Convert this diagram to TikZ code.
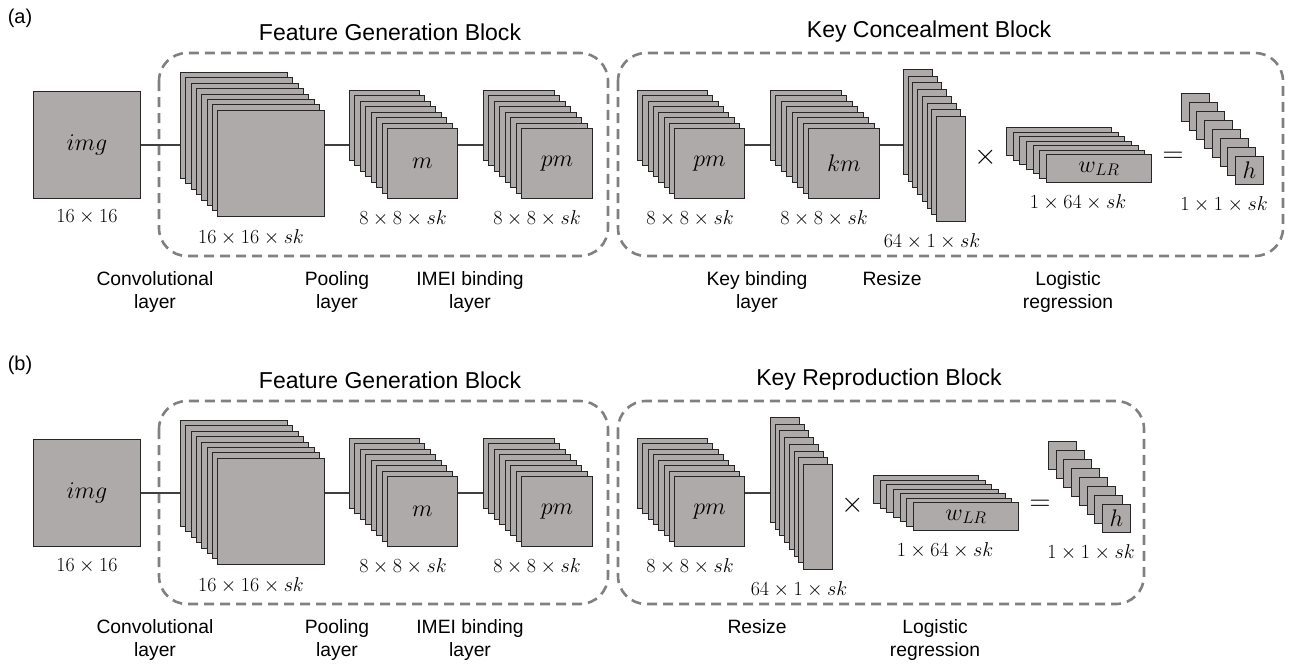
\RequirePackage{fix-cm}
\documentclass[tikz,border=0pt]{standalone}
\usepackage{fontspec}
\setmainfont{Liberation Sans}
\definecolor{mapfill}{RGB}{174,170,170}
\definecolor{blockgray}{RGB}{128,128,128}
\tikzset{
  layer/.style={draw=black!85, fill=mapfill, line width=1pt, inner sep=0pt, anchor=north west},
  link/.style={draw=black!75, line width=1.2pt},
  block/.style={draw=blockgray, line width=2.6pt, dash pattern=on 10pt off 6pt, rounded corners=28pt},
  title/.style={font=\fontsize{23}{27}\selectfont},
  dimlbl/.style={font=\fontsize{20}{24}\selectfont},
  inlbl/.style={font=\fontsize{24}{28}\selectfont},
  oplbl/.style={font=\fontsize{29}{33}\selectfont},
  layerlbl/.style={font=\fontsize{19.3}{23}\selectfont, align=center, anchor=north, inner sep=0pt}
}
% stack of feature maps: name, x, y of back layer, width, height, back layers, dx, dy, text
\newcommand{\fmaps}[9]{%
  \foreach \i in {1,...,#6}
    \node[layer, minimum width=#4pt, minimum height=#5pt] (#1-\i) at ({#2+(\i-1)*#7},{#3+(\i-1)*#8}) {};
  \node[layer, inlbl, minimum width=#4pt, minimum height=#5pt] (#1) at ({#2+#6*#7},{#3+#6*#8}) {#9};
}

\begin{document}
\begin{tikzpicture}[x=1pt, y=-1pt]
\useasboundingbox (0,0) rectangle (1290,664);

% (a)
\node[font=\fontsize{20}{24}\selectfont] (alab) at (20,18) {(a)};
\draw[block] (159,53) rectangle (608,256);
\draw[block] (618,53) rectangle (1283,256);
\node[title] (afgb) at (390,32) {Feature Generation Block};
\node[title] (akcb) at (929,32) {Key Concealment Block};

\node[layer, inlbl, minimum width=107pt, minimum height=107pt] (aimg) at (33,91) {$img$};
\fmaps{aconv}{180}{72}{107}{106}{7}{5.3}{5.4}{}
\fmaps{apool}{349}{90}{70}{70}{7}{5.43}{5.43}{$m$}
\fmaps{apm}{483}{90}{71}{70}{7}{5.43}{5.43}{$pm$}
\fmaps{akpm}{637}{90}{70}{70}{7}{5.3}{5.43}{$pm$}
\fmaps{akm}{770}{90}{71}{70}{7}{5.43}{5.43}{$km$}
\fmaps{ars}{903}{69}{29}{105}{7}{4.71}{6.71}{}
\fmaps{aw}{1006}{127}{105}{28}{6}{6.67}{4.55}{$w_{LR}$}
\fmaps{ah}{1181}{93}{28}{28}{7}{7.71}{9}{$h$}
\node[oplbl] (atimes) at (986,157) {$\times$};
\node[oplbl] (aeq) at (1173,157) {$=$};

\draw[link] (aimg.east) -- (aimg.east -| aconv-1.west);
\draw[link] (aimg.east -| aconv.east) -- (aimg.east -| apool-1.west);
\draw[link] (aimg.east -| apool.east) -- (aimg.east -| apm-1.west);
\draw[link] (aimg.east -| akpm.east) -- (aimg.east -| akm-1.west);
\draw[link] (aimg.east -| akm.east) -- (aimg.east -| ars-1.west);

\node[dimlbl] (aimgd) at (87,217) {$16\times16$};
\node[dimlbl] (aconvd) at (251,237) {$16\times16\times sk$};
\node[dimlbl] (apoold) at (403,218) {$8\times8\times sk$};
\node[dimlbl] (apmd) at (537,218) {$8\times8\times sk$};
\node[dimlbl] (akpmd) at (690,218) {$8\times8\times sk$};
\node[dimlbl] (akmd) at (824,218) {$8\times8\times sk$};
\node[dimlbl] (arsd) at (932,241) {$64\times1\times sk$};
\node[dimlbl] (awd) at (1078,202) {$1\times64\times sk$};
\node[dimlbl] (ahd) at (1224,204) {$1\times1\times sk$};

\node[layerlbl] (aconvl) at (155,271) {Convolutional\\layer};
\node[layerlbl] (apooll) at (337,271) {Pooling\\layer};
\node[layerlbl] (aimeil) at (470,271) {IMEI binding\\layer};
\node[layerlbl] (akeyl) at (757,271) {Key binding\\layer};
\node[layerlbl] (arsl) at (892,271) {Resize};
\node[layerlbl] (alrl) at (1068,271) {Logistic\\regression};

% (b)
\node[font=\fontsize{20}{24}\selectfont] (blab) at (20,365) {(b)};
\draw[block] (159,401) rectangle (608,604);
\draw[block] (618,401) rectangle (1144,604);
\node[title] (bfgb) at (390,380) {Feature Generation Block};
\node[title] (bkrb) at (879,380) {Key Reproduction Block};

\node[layer, inlbl, minimum width=107pt, minimum height=107pt] (bimg) at (33,439) {$img$};
\fmaps{bconv}{180}{420}{107}{106}{7}{5.3}{5.4}{}
\fmaps{bpool}{349}{438}{70}{70}{7}{5.43}{5.43}{$m$}
\fmaps{bpm}{483}{438}{71}{70}{7}{5.43}{5.43}{$pm$}
\fmaps{bkpm}{637}{438}{70}{70}{7}{5.3}{5.43}{$pm$}
\fmaps{brs}{770}{417}{29}{105}{7}{4.71}{6.71}{}
\fmaps{bw}{873}{475}{105}{28}{6}{6.67}{4.55}{$w_{LR}$}
\fmaps{bh}{1048}{441}{28}{28}{7}{7.71}{9}{$h$}
\node[oplbl] (btimes) at (853,505) {$\times$};
\node[oplbl] (beq) at (1040,505) {$=$};

\draw[link] (bimg.east) -- (bimg.east -| bconv-1.west);
\draw[link] (bimg.east -| bconv.east) -- (bimg.east -| bpool-1.west);
\draw[link] (bimg.east -| bpool.east) -- (bimg.east -| bpm-1.west);
\draw[link] (bimg.east -| bkpm.east) -- (bimg.east -| brs-1.west);

\node[dimlbl] (bimgd) at (87,566) {$16\times16$};
\node[dimlbl] (bconvd) at (251,585) {$16\times16\times sk$};
\node[dimlbl] (bpoold) at (403,566) {$8\times8\times sk$};
\node[dimlbl] (bpmd) at (537,566) {$8\times8\times sk$};
\node[dimlbl] (bkpmd) at (690,566) {$8\times8\times sk$};
\node[dimlbl] (brsd) at (799,589) {$64\times1\times sk$};
\node[dimlbl] (bwd) at (945,550) {$1\times64\times sk$};
\node[dimlbl] (bhd) at (1091,552) {$1\times1\times sk$};

\node[layerlbl] (bconvl) at (155,619) {Convolutional\\layer};
\node[layerlbl] (bpooll) at (337,619) {Pooling\\layer};
\node[layerlbl] (bimeil) at (470,619) {IMEI binding\\layer};
\node[layerlbl] (brsl) at (757,619) {Resize};
\node[layerlbl] (blrl) at (935,619) {Logistic\\regression};
\end{tikzpicture}
\end{document}
